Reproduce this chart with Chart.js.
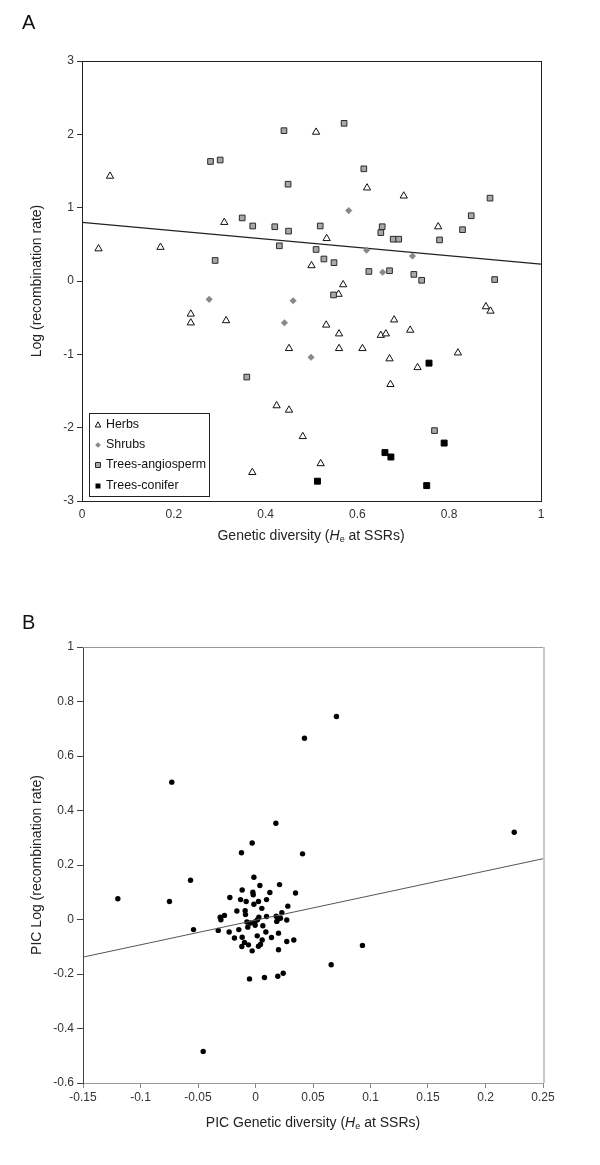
<!DOCTYPE html>
<html><head><meta charset="utf-8">
<script src="https://cdn.jsdelivr.net/npm/chart.js@4"></script>
<style>
body{margin:0;background:#fff;width:600px;height:1165px;position:relative;overflow:hidden;font-family:"Liberation Sans",Arial,sans-serif;}
.wrap{position:absolute;left:0;width:600px;}
.lbl{position:absolute;font-size:20px;line-height:20px;color:#111;}
.xt{position:absolute;font-size:14px;line-height:16px;color:#222;white-space:nowrap;transform:translate(-50%,-50%);}
.xt sub{font-size:9px;vertical-align:-2px;}
</style></head><body>
<div class="wrap" style="top:0;height:560px"><canvas id="cA"></canvas></div>
<div class="wrap" style="top:580px;height:585px"><canvas id="cB"></canvas></div>
<div class="lbl" style="left:22px;top:12px">A</div>
<div class="lbl" style="left:22px;top:612px">B</div>
<div class="xt" style="left:311px;top:537px">Genetic diversity (<i>H</i><sub>e</sub> at SSRs)</div>
<div class="xt" style="left:313px;top:1124px">PIC Genetic diversity (<i>H</i><sub>e</sub> at SSRs)</div>
<script>
// ---------- Panel A data ----------
const seriesNames = ['Herbs','Shrubs','Trees-angiosperm','Trees-conifer'];
const herbsX = [0.036,0.061,0.171,0.237,0.237,0.31,0.314,0.371,0.424,0.451,0.451,0.481,0.50,0.51,0.52,0.532,0.533,0.559,0.56,0.56,0.569,0.611,0.621,0.651,0.662,0.670,0.672,0.68,0.701,0.715,0.731,0.776,0.819,0.880,0.890];
const herbsY = [0.44,1.43,0.46,-0.45,-0.57,0.80,-0.54,-2.61,-1.70,-0.92,-1.76,-2.12,0.21,2.03,-2.49,-0.60,0.58,-0.18,-0.72,-0.92,-0.05,-0.92,1.27,-0.74,-0.72,-1.06,-1.41,-0.53,1.16,-0.67,-1.18,0.74,-0.98,-0.35,-0.41];
const shrubsX = [0.277,0.441,0.46,0.499,0.581,0.62,0.655,0.72];
const shrubsY = [-0.25,-0.57,-0.27,-1.04,0.96,0.42,0.12,0.34];
const angioX = [0.28,0.29,0.301,0.349,0.359,0.372,0.42,0.43,0.44,0.449,0.45,0.510,0.519,0.527,0.548,0.549,0.571,0.614,0.625,0.651,0.654,0.67,0.678,0.690,0.723,0.740,0.768,0.779,0.829,0.848,0.889,0.899];
const angioY = [1.63,0.28,1.65,0.86,-1.31,0.75,0.74,0.48,2.05,1.32,0.68,0.43,0.75,0.30,-0.19,0.25,2.15,1.53,0.13,0.66,0.74,0.14,0.57,0.57,0.09,0.01,-2.04,0.56,0.70,0.89,1.13,0.02];
const coniferX = [0.513,0.66,0.673,0.751,0.756,0.789];
const coniferY = [-2.73,-2.34,-2.40,-2.79,-1.12,-2.21];
const fitAX = [0, 1];
const fitAY = [0.80, 0.23];
const xTicksA = [0,0.2,0.4,0.6,0.8,1];
const yTicksA = [-3,-2,-1,0,1,2,3];

// ---------- Panel B data ----------
const picX = [-0.0728,-0.0122,-0.0029,0.0177,0.0704,0.0426,0.225,0.0409,-0.1197,-0.0748,-0.0565,-0.0539,-0.0455,-0.0324,0.0348,0.0281,0.0272,0.0333,0.0272,0.093,0.0658,0.0241,
 -0.0014,0.0038,0.0209,-0.0116,-0.0023,-0.002,0.0125,-0.0223,-0.013,-0.0081,-0.0014,0.0026,0.0096,0.0055,-0.0162,-0.009,-0.0087,-0.027,-0.0307,-0.0301,0.0029,0.0096,0.018,0.0229,0.0197,0.0217,0.0185,-0.0075,-0.0043,-0.0006,0.0017,-0.0003,-0.0067,0.0064,-0.0145,-0.0229,0.009,0.02,0.0015,-0.0183,-0.0116,0.0139,0.0058,-0.0096,-0.0061,-0.0119,0.0043,0.0026,-0.0029,0.02,-0.0052,0.0078,0.0194];
const picY = [0.504,0.245,0.281,0.353,0.745,0.665,0.320,0.241,0.076,0.066,0.144,-0.037,-0.484,-0.040,0.097,0.049,-0.002,-0.075,-0.081,-0.095,-0.166,-0.197,
 0.155,0.125,0.128,0.108,0.100,0.091,0.099,0.081,0.073,0.066,0.056,0.066,0.073,0.041,0.031,0.032,0.018,0.015,0.008,-0.001,0.008,0.011,0.012,0.025,0.002,0.005,-0.007,-0.009,-0.013,-0.009,-0.001,-0.021,-0.028,-0.023,-0.037,-0.046,-0.046,-0.050,-0.060,-0.068,-0.065,-0.066,-0.075,-0.084,-0.093,-0.099,-0.092,-0.098,-0.115,-0.111,-0.218,-0.213,-0.208];
const fitBX = [-0.15, 0.25];
const fitBY = [-0.138, 0.223];
const xTicksB = [-0.15,-0.1,-0.05,0,0.05,0.1,0.15,0.2,0.25];
const yTicksB = [-0.6,-0.4,-0.2,0,0.2,0.4,0.6,0.8,1];

const pts = (xs, ys) => xs.map((x, i) => ({x, y: ys[i]}));
const FONT = '"Liberation Sans", Arial, sans-serif';
Chart.defaults.font.family = FONT;
Chart.defaults.animation = false;

const fmt = v => String(Number(Number(v).toFixed(3)));
const setTicks = arr => scale => { scale.ticks = arr.map(v => ({value: v})); };

// frame plugin: draws top/right borders
const framePlugin = {
  id: 'frame',
  afterDatasetsDraw(chart, args, o) {
    const {ctx, chartArea: a} = chart;
    ctx.save();
    ctx.lineCap = 'butt';
    ctx.strokeStyle = o.topColor; ctx.lineWidth = o.topWidth;
    ctx.beginPath(); ctx.moveTo(a.left, a.top + 0.5); ctx.lineTo(a.right, a.top + 0.5); ctx.stroke();
    ctx.strokeStyle = o.rightColor; ctx.lineWidth = o.rightWidth;
    ctx.beginPath(); ctx.moveTo(a.right + o.rightWidth / 2, a.top); ctx.lineTo(a.right + o.rightWidth / 2, a.bottom); ctx.stroke();
    ctx.restore();
  }
};

// boxed legend inside chart area (panel A)
const boxLegend = {
  id: 'boxLegend',
  afterDatasetsDraw(chart, args, o) {
    if (!o.show) return;
    const {ctx, chartArea: a} = chart;
    const x0 = a.left + 7, y1 = a.bottom - 5, w = 120, h = 83;
    const y0 = y1 - h;
    ctx.save();
    ctx.fillStyle = '#fff';
    ctx.fillRect(x0, y0, w, h);
    ctx.strokeStyle = '#222'; ctx.lineWidth = 1;
    ctx.strokeRect(x0 + 0.5, y0 + 0.5, w, h);
    ctx.font = '12.4px ' + FONT;
    ctx.textBaseline = 'middle';
    ctx.fillStyle = '#111';
    const rows = [12, 32, 52, 73];
    chart.data.datasets.filter(d => d.legendIdx !== undefined).forEach(d => {
      const cy = y0 + rows[d.legendIdx];
      const cx = x0 + 9;
      ctx.save();
      ctx.fillStyle = d.backgroundColor; ctx.strokeStyle = d.borderColor; ctx.lineWidth = 1;
      ctx.beginPath();
      if (d.pointStyle === 'triangle') {
        ctx.moveTo(cx, cy - 3.2); ctx.lineTo(cx + 2.8, cy + 2); ctx.lineTo(cx - 2.8, cy + 2); ctx.closePath();
        ctx.fill(); ctx.stroke();
      } else if (d.pointStyle === 'rectRot') {
        ctx.moveTo(cx, cy - 2.8); ctx.lineTo(cx + 2.8, cy); ctx.lineTo(cx, cy + 2.8); ctx.lineTo(cx - 2.8, cy); ctx.closePath();
        ctx.fill();
      } else {
        ctx.rect(cx - 2.5, cy - 2.5, 5, 5); ctx.fill(); if (d.legendIdx === 2) ctx.stroke();
      }
      ctx.restore();
      ctx.fillText(d.label, x0 + 17, cy);
    });
    ctx.restore();
  }
};

function yAxis(width, ticksArr, min, max, title, tickColor, borderColor, tl) {
  return {
    type: 'linear', position: 'left', min, max,
    afterBuildTicks: setTicks(ticksArr),
    afterFit: s => { s.width = width; },
    ticks: {callback: fmt, color: '#333', font: {size: 12}, padding: 3},
    grid: {drawOnChartArea: false, drawTicks: true, tickLength: tl, tickColor, tickWidth: 1},
    border: {display: true, color: borderColor, width: 1},
    title: {display: true, text: title, color: '#222', font: {size: 14}, padding: {top: 28.5, bottom: 0}}
  };
}

// ---------- Chart A ----------
new Chart(document.getElementById('cA'), {
  type: 'scatter',
  data: {
    datasets: [
      {label: seriesNames[2], legendIdx: 2, data: pts(angioX, angioY), pointStyle: 'rect', pointRadius: 4, backgroundColor: '#a8a8a8', borderColor: '#2a2a2a', borderWidth: 1},
      {label: seriesNames[3], legendIdx: 3, data: pts(coniferX, coniferY), pointStyle: 'rect', pointRadius: 4.2, backgroundColor: '#000', borderColor: '#000', borderWidth: 1},
      {label: seriesNames[1], legendIdx: 1, data: pts(shrubsX, shrubsY), pointStyle: 'rectRot', pointRadius: 3.3, backgroundColor: '#888', borderColor: '#888', borderWidth: 0.5},
      {label: seriesNames[0], legendIdx: 0, data: pts(herbsX, herbsY), pointStyle: 'triangle', pointRadius: 4.2, backgroundColor: '#fff', borderColor: '#111', borderWidth: 1},
      {label: 'fit', type: 'line', data: pts(fitAX, fitAY), showLine: true, pointRadius: 0, borderColor: '#222', borderWidth: 1.4, fill: false}
    ]
  },
  options: {
    responsive: true, maintainAspectRatio: false,
    layout: {padding: {top: 61, right: 59, left: 0, bottom: 0}},
    plugins: {legend: {display: false}, tooltip: {enabled: false},
      frame: {topColor: '#222', topWidth: 1, rightColor: '#222', rightWidth: 1},
      boxLegend: {show: true}},
    scales: {
      x: {type: 'linear', min: 0, max: 1,
        afterBuildTicks: setTicks(xTicksA),
        afterFit: s => { s.height = 59; },
        ticks: {callback: fmt, color: '#333', font: {size: 12}, padding: 6, maxRotation: 0},
        grid: {drawOnChartArea: false, drawTicks: false},
        border: {display: true, color: '#222', width: 1}},
      y: yAxis(82, yTicksA, -3, 3, 'Log (recombination rate)', '#333', '#222', 5)
    }
  },
  plugins: [framePlugin, boxLegend]
});

// ---------- Chart B ----------
new Chart(document.getElementById('cB'), {
  type: 'scatter',
  data: {
    datasets: [
      {label: 'fit', type: 'line', data: pts(fitBX, fitBY), showLine: true, pointRadius: 0, borderColor: '#555', borderWidth: 1, fill: false},
      {label: 'PIC', data: pts(picX, picY), pointStyle: 'circle', pointRadius: 2.7, backgroundColor: '#000', borderColor: '#000', borderWidth: 0}
    ]
  },
  options: {
    responsive: true, maintainAspectRatio: false,
    layout: {padding: {top: 67, right: 57, left: 0, bottom: 0}},
    plugins: {legend: {display: false}, tooltip: {enabled: false},
      frame: {topColor: '#999', topWidth: 1, rightColor: '#c8c8c8', rightWidth: 2},
      boxLegend: {show: false}},
    scales: {
      x: {type: 'linear', min: -0.15, max: 0.25,
        afterBuildTicks: setTicks(xTicksB),
        afterFit: s => { s.height = 82; },
        ticks: {callback: fmt, color: '#333', font: {size: 12}, padding: 2, maxRotation: 0},
        grid: {drawOnChartArea: false, drawTicks: true, tickLength: 5, tickColor: '#888'},
        border: {display: true, color: '#999', width: 1}},
      y: yAxis(83, yTicksB, -0.6, 1, 'PIC Log (recombination rate)', '#444', '#444', 6)
    }
  },
  plugins: [framePlugin, boxLegend]
});
</script>
</body></html>
